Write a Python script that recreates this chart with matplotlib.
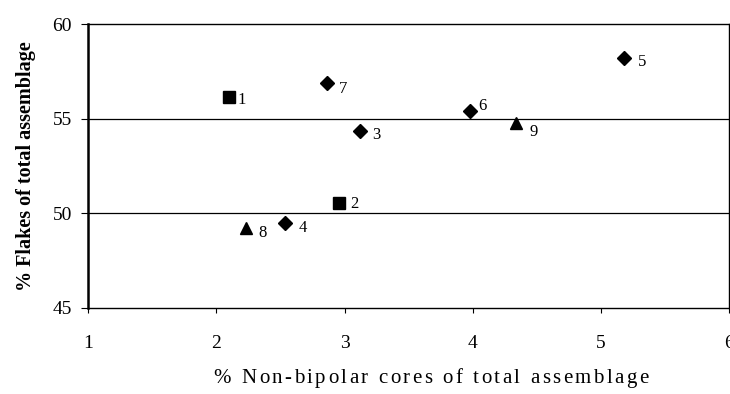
import matplotlib
matplotlib.use("Agg")
import matplotlib.pyplot as plt

# Assemblage composition by site
labels = ["1", "2", "3", "4", "5", "6", "7", "8", "9"]
nonbipolar_cores = [2.10, 2.96, 3.12, 2.535, 5.18, 3.98, 2.86, 2.23, 4.34]
flakes = [56.13, 50.56, 54.36, 49.5, 58.22, 55.4, 56.87, 49.2, 54.75]
markers = ["s", "s", "D", "D", "D", "D", "D", "^", "^"]
label_offsets = {"1": (9, -2), "2": (11, -1), "3": (12, -3), "4": (13, -4),
                 "5": (13, -3), "6": (9, 4), "7": (12, -4), "8": (12, -3),
                 "9": (13, -6)}

x_ticks = [1, 2, 3, 4, 5, 6]
y_ticks = [45, 50, 55, 60]
x_title = "% Non-bipolar cores of total assemblage"
y_title = "% Flakes of total assemblage"

plt.rcParams["font.family"] = ["Liberation Serif", "DejaVu Serif"]

W, H, DPI = 7.30, 3.94, 100
fig = plt.figure(figsize=(W, H), dpi=DPI)
ax = fig.add_axes([0.1212, 0.2183, 0.998 - 0.1212, 0.939 - 0.2183])

sizes = {"s": 8, "D": 7, "^": 8.5}
for x, y, m, lab in zip(nonbipolar_cores, flakes, markers, labels):
    ax.plot(x, y, linestyle="none", marker=m, markersize=sizes[m],
            color="black", zorder=3)
    dx, dy = label_offsets[lab]
    ax.annotate(lab, (x, y), xytext=(dx, dy), textcoords="offset points",
                ha="center", va="center", fontsize=12, color="black")

ax.set_xlim(1, 6)
ax.set_ylim(45, 60)
ax.set_xticks(x_ticks)
ax.set_yticks(y_ticks)
ax.tick_params(axis="both", labelsize=14, direction="out", width=0.8,
               color="black")
ax.tick_params(axis="x", length=3.5, pad=16)
ax.tick_params(axis="y", length=5, pad=7)

for y in [50, 55]:
    ax.axhline(y, color="black", linewidth=0.9, zorder=1)

for side, spine in ax.spines.items():
    spine.set_color("black")
    spine.set_linewidth(1.0)
ax.spines["left"].set_linewidth(1.8)

ax.set_ylabel(y_title, fontsize=14.5, fontweight="bold")
ax.yaxis.set_label_coords(-0.082, 0.5)


def spaced_text(s, cx, baseline, size, span):
    """Draw s centred at pixel cx with letters spread to fill span pixels."""
    renderer = fig.canvas.get_renderer()

    def width(t):
        probe = fig.text(0, 0, t + "|", fontsize=size, transform=None)
        bar = fig.text(0, 0, "|", fontsize=size, transform=None)
        w = (probe.get_window_extent(renderer).width
             - bar.get_window_extent(renderer).width)
        probe.remove()
        bar.remove()
        return w

    natural = width(s)
    extra = max(0.0, (span - natural) / (len(s) - 1))
    left = cx - (natural + extra * (len(s) - 1)) / 2
    for i, ch in enumerate(s):
        if ch == " ":
            continue
        fig.text(left + width(s[:i]) + extra * i, baseline, ch,
                 fontsize=size, ha="left", va="baseline", transform=None)


spaced_text(x_title, 431, H * DPI - 383, 15, 435)

fig.savefig("out.png", dpi=DPI)
